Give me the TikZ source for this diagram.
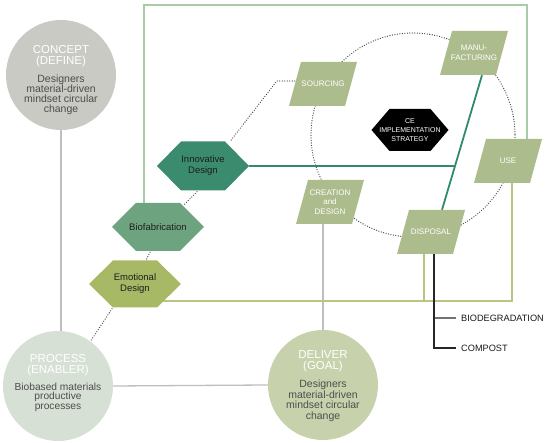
\documentclass[tikz,border=0pt]{standalone}
\usepackage{fontspec}
\setmainfont{Liberation Sans}
\usetikzlibrary{calc}
\definecolor{conceptc}{HTML}{C8CAC3}
\definecolor{processc}{HTML}{D7E0D5}
\definecolor{deliverc}{HTML}{C7D2AC}
\definecolor{parac}{HTML}{ADBC8C}
\definecolor{innovc}{HTML}{3B8C6F}
\definecolor{biofabc}{HTML}{6EA380}
\definecolor{emoc}{HTML}{A8B966}
\definecolor{rectc}{HTML}{A9CBA7}
\definecolor{olivec}{HTML}{B9C683}
\definecolor{tealc}{HTML}{2F8A6E}
\definecolor{grayc}{HTML}{BEBEBE}
\definecolor{bodyc}{HTML}{4D4D4D}
\definecolor{dotc}{HTML}{444444}
\definecolor{hextext}{HTML}{1E1E1E}
\newcommand\hexfill[6]{\fill[#6] (#1-#3/2,#2) -- (#1-#3/2+#5,#2-#4/2) -- (#1+#3/2-#5,#2-#4/2) -- (#1+#3/2,#2) -- (#1+#3/2-#5,#2+#4/2) -- (#1-#3/2+#5,#2+#4/2) -- cycle;}
\newcommand\parafill[3]{\fill[#3] (#1-22,#2-22) -- (#1+34,#2-22) -- (#1+22,#2+22) -- (#1-34,#2+22) -- cycle;}
\begin{document}
\begin{tikzpicture}[x=1pt,y=-1pt,
  circ/.style={circle, minimum size=110pt, inner sep=0pt},
  head/.style={text=white, font=\fontsize{11.5}{11}\selectfont, align=center, inner sep=0pt},
  body/.style={text=bodyc, font=\fontsize{10.5}{10}\selectfont, align=center, inner sep=0pt},
  box/.style={minimum width=56pt, minimum height=44pt, inner sep=0pt, text=white, font=\fontsize{8}{9.5}\selectfont, align=center},
  hexlbl/.style={inner sep=0pt, text=hextext, font=\fontsize{9.5}{11}\selectfont, align=center},
  dotline/.style={draw=dotc, line width=1.3pt, dash pattern=on 0pt off 2.5pt, line cap=round},
  rectline/.style={draw=rectc, line width=1.5pt},
  oliveline/.style={draw=olivec, line width=2pt},
  tealline/.style={draw=tealc, line width=1.8pt},
  grayline/.style={draw=grayc, line width=1.3pt},
  darkline/.style={draw=black!85, line width=1.5pt},
  sideline/.style={draw=black!55, line width=1.5pt},
  sidetext/.style={text=black!90, font=\fontsize{9.2}{10}\selectfont, inner sep=0pt, anchor=west}
]
\useasboundingbox (0,0) rectangle (550,443);
% circles
\node[circ, fill=conceptc] (concept) at (61,75) {};
\node[circ, fill=processc] (proc) at (58,386) {};
\node[circ, fill=deliverc] (deliv) at (323,385) {};
\coordinate (tl) at (144,5);
\coordinate (tr) at (527,5);
\coordinate (br) at (512,301);
% dotted circle
\draw[dotline] (413,135) circle[radius=102];
% circle connectors
\draw[grayline] (concept.south) -- (concept.south |- proc.north);
\draw[grayline] (proc.east) -- (deliv.west);
% label nodes as anchors
\node[box] (src) at (323,84) {};
\node[box] (manu) at (474,53) {};
\node[box] (use) at (508,161) {};
\node[box] (cre) at (330,202) {};
\node[box] (disp) at (431,232) {};
\node[hexlbl, minimum width=92pt, minimum height=49pt] (innov) at (203,166) {};
\node[hexlbl, minimum width=92pt, minimum height=48pt] (biofab) at (158,227) {};
\node[hexlbl, minimum width=92pt, minimum height=47pt] (emo) at (135,284) {};
\node[minimum width=77pt, minimum height=42pt, inner sep=0pt] (ce) at (410,130) {};
\draw[grayline] (cre.south -| deliv.north) -- (deliv.north);
% rectangle frame
\draw[rectline] (tl |- biofab.north) -- (tl) -- (tr) -- (tr |- use.north);
\draw[rectline] ($(manu.north)+(3,0)$) -- ($(manu.north)+(3,0)$ |- tl);
% olive lines
\coordinate (bl) at (150,301);
\draw[oliveline] (bl) -- (br) -- (br |- use.south);
\coordinate (dA) at ($(disp.south)+(-7,0)$);
\draw[oliveline] (dA) -- (dA |- br);
% teal lines
\coordinate (m1) at ($(manu.south)+(8,0)$);
\coordinate (d1) at ($(disp.north)+(11,0)$);
\coordinate (j) at (455,166);
\draw[tealline] (m1) -- (d1);
\draw[tealline] (innov.east) -- (j);
% disposal outputs
\node[sidetext] (bio) at (461,318) {BIODEGRADATION};
\node[sidetext] (comp) at (461,348) {COMPOST};
\coordinate (dB) at ($(disp.south)+(3,0)$);
\draw[sideline] (dB |- bio.west) -- ($(bio.west)+(-5,0)$);
\draw[darkline] (dB) |- ($(comp.west)+(-5,0)$);
% dotted connectors
\draw[dotline] ($(src.west)+(0,-3)$) -- ++(-18,0) -- ($(innov.north east)+(-19,0)$);
\draw[dotline] ($(innov.south)+(-6,1)$) -- ($(biofab.north)+(25,3)$);
\draw[dotline] ($(biofab.south)+(-8,1)$) -- ($(emo.north)+(11,0)$);
\draw[dotline] ($(emo.south)+(-23,1)$) -- (proc.54);
% fills
\parafill{323}{84}{parac}
\parafill{474}{53}{parac}
\parafill{508}{161}{parac}
\parafill{330}{202}{parac}
\parafill{431}{232}{parac}
\hexfill{203}{166}{92}{49}{24}{innovc}
\hexfill{158}{227}{92}{48}{24}{biofabc}
\hexfill{135}{284}{92}{47}{24}{emoc}
\hexfill{410}{130}{77}{42}{18}{black}
% texts
\node[head] at (61,56) {CONCEPT\\(DEFINE)};
\node[body] at (61,95) {Designers\\material-driven\\mindset circular\\change};
\node[head] at (58,365) {PROCESS\\(ENABLER)};
\node[body, font=\fontsize{10.2}{9.4}\selectfont] at (58,397) {Biobased materials\\productive\\processes};
\node[head] at (323,361) {DELIVER\\(GOAL)};
\node[body, font=\fontsize{10.5}{10.5}\selectfont] at (323,401) {Designers\\material-driven\\mindset circular\\change};
\node[box] at (src) {SOURCING};
\node[box] at (manu) {MANU-\\FACTURING};
\node[box] at (use) {USE};
\node[box] at (cre) {CREATION\\and\\DESIGN};
\node[box] at (disp) {DISPOSAL};
\node[hexlbl] at (innov) {Innovative\\Design};
\node[hexlbl] at (biofab) {Biofabrication};
\node[hexlbl] at (emo) {Emotional\\Design};
\node[text=white, font=\fontsize{7}{9}\selectfont, align=center, inner sep=0pt] at (ce) {CE\\IMPLEMENTATION\\STRATEGY};
\end{tikzpicture}
\end{document}
